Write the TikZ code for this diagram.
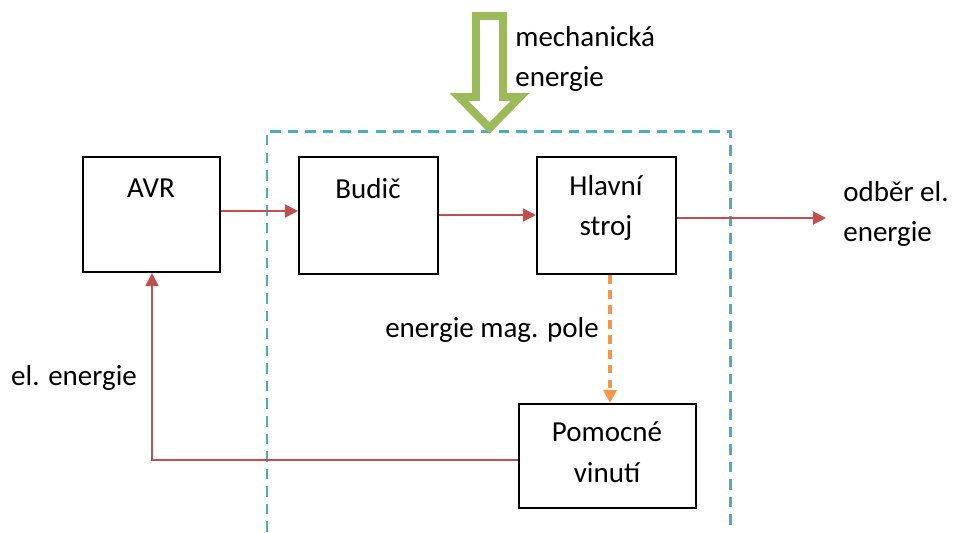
\documentclass[tikz,border=0pt]{standalone}
\usepackage{fontspec}
\setmainfont{Carlito}
\usetikzlibrary{arrows.meta, positioning}
\definecolor{cervena}{RGB}{192,80,77}
\definecolor{modra}{RGB}{75,172,198}
\definecolor{zelena}{RGB}{155,187,89}
\definecolor{oranzova}{RGB}{247,150,70}
\tikzset{
  txt/.style   ={font=\fontsize{16.5}{23}\selectfont, align=center, inner sep=0pt},
  blok/.style  ={draw, line width=1.2pt, inner sep=0pt},
  tok/.style   ={-{Triangle[length=7.5pt, width=7.5pt]}, line width=1.1pt, cervena},
  pole/.style  ={-{Triangle[length=7.5pt, width=7.5pt]}, line width=1.8pt,
                 oranzova, dash pattern=on 5pt off 3.5pt},
  hranice/.style={line width=1.7pt, modra, dash pattern=on 6pt off 4pt},
  mech/.style  ={line width=4.5pt, zelena, line join=miter},
}

\begin{document}
\begin{tikzpicture}[x=0.02cm, y=-0.02cm]
  \useasboundingbox (0,0) rectangle (955,532);

  % bloky
  \node[blok, minimum width=2.74cm, minimum height=2.3cm]  (avr)  at (151.5,214.5) {};
  \node[blok, minimum width=2.78cm, minimum height=2.34cm] (budic) at (368.5,215.5) {};
  \node[blok, minimum width=2.78cm, minimum height=2.34cm] (hlavni) at (606.5,215.5) {};
  \node[blok, minimum width=3.54cm, minimum height=2.08cm] (pomoc) at (607.5,456) {};

  \node[txt] (avrt)   at (151,188) {AVR};
  \node[txt] (budict) at (368,189) {Budič};
  \node[txt] (hlavnit) at (606,208) {Hlavní\\stroj};
  \node[txt] (pomoct) at (607,452) {Pomocné\\vinutí};

  % hranice stroje
  \draw[hranice] (267,532) -- (267,131) -- (730,131) -- (730,532);

  % mechanicka energie
  \draw[mech] (476,16) -- (503,16) -- (503,97) -- (520,97)
    -- (489.5,128) -- (459,97) -- (476,97) -- cycle;
  \node[txt, anchor=west, align=left] (mecht) at (515,59) {mechanická\\energie};

  % toky energie
  \draw[tok] (avr.east |- 0,211) -- (budic.west |- 0,211);
  \draw[tok] (budic.east |- 0,215) -- (hlavni.west |- 0,215);
  \coordinate (odber) at (826,218);
  \draw[tok] (hlavni.east |- odber) -- (odber);
  \node[txt, anchor=west, align=left] (odbert) at (843,214) {odběr el.\\energie};

  \draw[pole] (hlavni.south -| 610,0) -- (pomoc.north -| 610,0);
  \node[txt] (polet) at (492,330) {energie mag. pole};

  \draw[tok] (pomoc.west |- 0,460) -- (152,460) -- (avr.south -| 152,0);
  \node[txt] (elt) at (74,378) {el. energie};
\end{tikzpicture}
\end{document}
